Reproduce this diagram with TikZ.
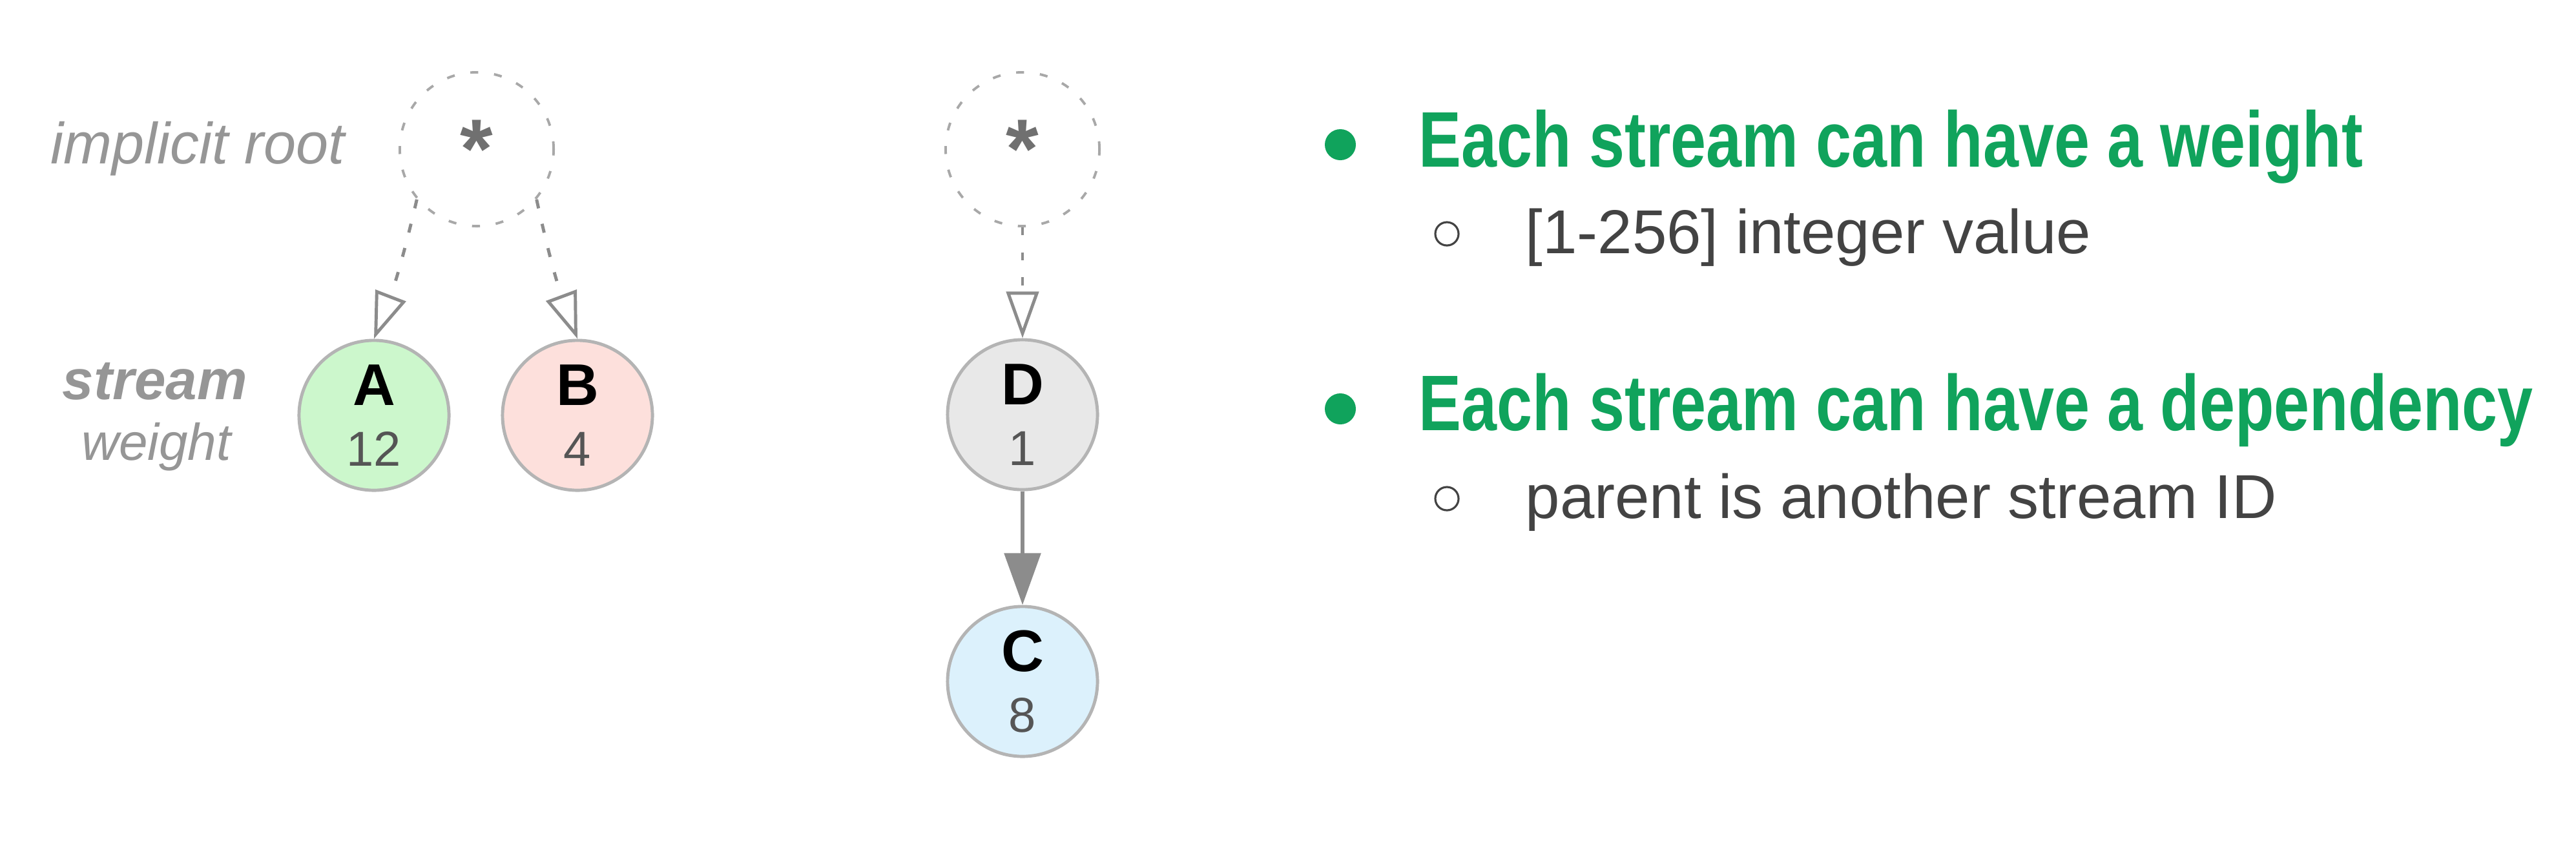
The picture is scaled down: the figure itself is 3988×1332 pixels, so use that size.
\documentclass[tikz,border=0pt]{standalone}
\usepackage{fontspec}
\setmainfont{Liberation Sans}
\newfontfamily\headfont[FakeStretch=0.81]{Liberation Sans}
\usetikzlibrary{arrows.meta}

\definecolor{ringgray}{RGB}{180,180,180}
\definecolor{dashgray}{RGB}{168,168,168}
\definecolor{edgegray}{RGB}{140,140,140}
\definecolor{stargray}{RGB}{112,112,112}
\definecolor{numgray}{RGB}{85,85,85}
\definecolor{labelgray}{RGB}{150,150,150}
\definecolor{fillA}{RGB}{204,247,204}
\definecolor{fillB}{RGB}{253,224,220}
\definecolor{fillD}{RGB}{232,232,232}
\definecolor{fillC}{RGB}{220,241,252}
\definecolor{headgreen}{RGB}{16,163,92}
\definecolor{subgray}{RGB}{67,67,67}

\newcommand\sid[1]{{\fontsize{25.9}{26.7}\selectfont\bfseries\color{black}#1}}

\begin{document}
\begin{tikzpicture}[
x=0.01cm, y=-0.01cm,
stream/.style={circle, draw=ringgray, line width=1.4pt, minimum size=2.32cm,
    inner sep=0pt, align=center, text=numgray,
    font=\fontsize{21.6}{26.7}\selectfont},
root/.style={circle, draw=dashgray, line width=1.1pt, dash pattern=on 3.5pt off 7pt,
    minimum size=2.38cm, inner sep=0pt, text=stargray,
    font=\fontsize{37}{37}\selectfont\bfseries},
dep/.style={draw=edgegray, line width=1.4pt, dash pattern=on 4pt off 7pt,
    -{Triangle[open, length=0.72cm, width=0.5cm]}},
depdot/.style={draw=edgegray, line width=1.4pt, dash pattern=on 3.5pt off 7.5pt,
    -{Triangle[open, length=0.72cm, width=0.5cm]}},
child/.style={draw=edgegray, line width=1.6pt,
    -{Triangle[length=0.8cm, width=0.56cm]}},
legend/.style={inner sep=0pt, text=labelgray, font=\fontsize{25.6}{30}\selectfont\itshape},
head/.style={inner sep=0pt, anchor=base west, text=headgreen,
    font=\headfont\bfseries\fontsize{34.7}{40}\selectfont},
sub/.style={inner sep=0pt, anchor=base west, text=subgray,
    font=\fontsize{27.3}{32}\selectfont},
dot/.style={circle, fill=headgreen, minimum size=0.48cm, inner sep=0pt},
ring/.style={circle, draw=subgray, line width=0.9pt, minimum size=0.36cm, inner sep=0pt},
]
\useasboundingbox (0,0) rectangle (3988,1332);

\node[legend, anchor=base west] (implicit) at (78,253) {implicit root};
\node[legend, anchor=base, font=\fontsize{24.8}{30}\selectfont\bfseries\itshape] (legend-id) at (240,618) {stream};
\node[legend, anchor=base, font=\fontsize{22.8}{30}\selectfont\itshape] (legend-w) at (242,712) {weight};

\node[root] (rootL) at (738,231) {*};
\node[stream, fill=fillA] (A) at (579,643) {\sid{A}\\12};
\node[stream, fill=fillB] (B) at (894,643) {\sid{B}\\4};

\draw[dep] (rootL.-140) to[bend left=4] (A.north);
\draw[dep] (rootL.-40) to[bend right=4] (B.north);

\node[root] (rootR) at (1583,231) {*};
\node[stream, fill=fillD] (D) at (1583,642) {\sid{D}\\1};
\node[stream, fill=fillC] (C) at (1583,1055) {\sid{C}\\8};

\draw[depdot] (rootR.south) -- (D.north);
\draw[child] (D.south) -- (C.north);

\node[dot] (dot1) at (2075,224) {};
\node[head] (weight) at (2196,258) {Each stream can have a weight};
\node[ring] (ring1) at (2240,362) {};
\node[sub] (range) at (2361,392) {[1-256] integer value};

\node[dot] (dot2) at (2075,633) {};
\node[head] (dependency) at (2196,666) {Each stream can have a dependency};
\node[ring] (ring2) at (2240,772) {};
\node[sub] (parent) at (2361,802) {parent is another stream ID};

\end{tikzpicture}
\end{document}
